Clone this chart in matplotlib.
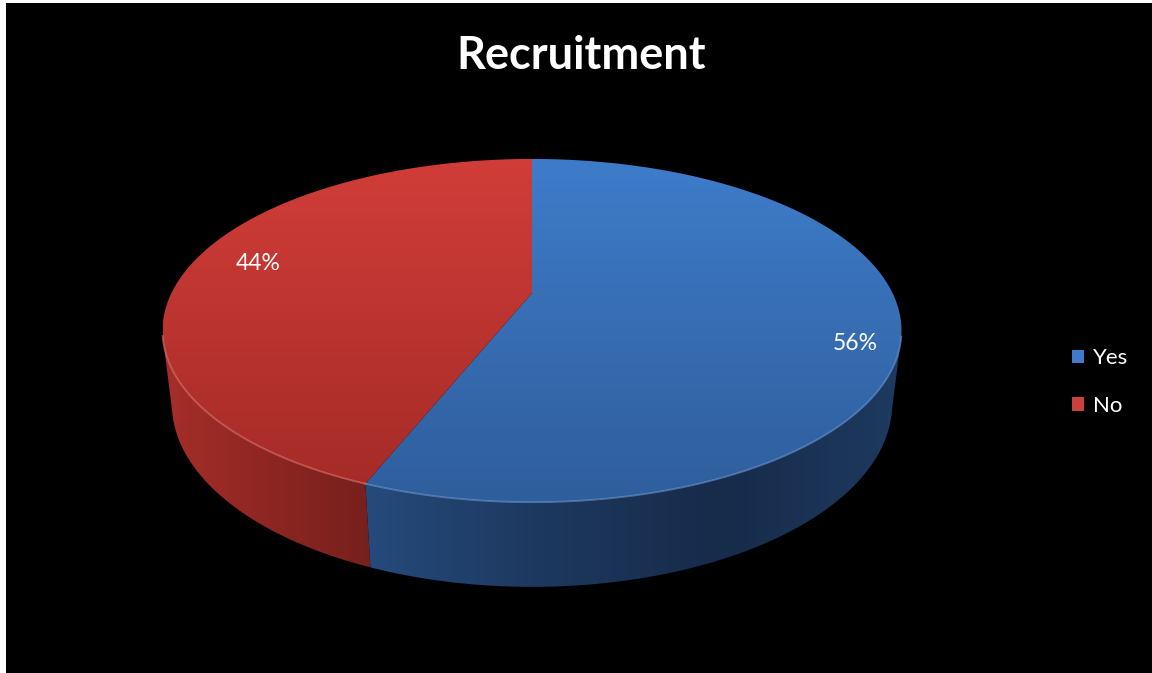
import numpy as np
import matplotlib.pyplot as plt
from matplotlib.patches import Polygon, Patch
from matplotlib.colors import to_rgb

W, H = 1152, 673

labels = ['Yes', 'No']
values = [56, 44]

# colours: top face (light, dark), side wall stops left -> right
top_colors = [('#3e7cca', '#2f5e9c'), ('#d13d39', '#a62b27')]
side_colors = [['#254a7c', '#1d385e', '#172b4a', '#1e3a60'],
               ['#a62e29', '#8e2622', '#76201d']]
rim_colors = ['#6d9ad6', '#e07a74']
legend_colors = ['#3f7bc8', '#c9403c']

# camera for the tilted pie (pixel space)
cx, cy = 532, 293
focal, dist = 1491.0, 4.086
xscale = 0.988
elev = np.radians(26.6)
thick = 0.225


def project(t, r=1.0, z=0.0):
    X = r * np.cos(t)
    Y = r * np.sin(t)
    s, c = np.sin(elev), np.cos(elev)
    d = dist + Y * c - z * s
    return cx + xscale * focal * X / d, cy - focal * (Y * s + z * c) / d


def gradient_fill(ax, xs, ys, stops, horizontal=False):
    poly = Polygon(np.column_stack([xs, ys]), closed=True, facecolor='none',
                   edgecolor='none')
    ax.add_patch(poly)
    stops = np.array([to_rgb(c) for c in stops])
    n = 256
    pos = np.linspace(0, 1, len(stops))
    grid = np.linspace(0, 1, n)
    ramp = np.stack([np.interp(grid, pos, stops[:, k]) for k in range(3)], axis=-1)
    img = ramp[np.newaxis, :, :] if horizontal else ramp[:, np.newaxis, :]
    im = ax.imshow(img, extent=(xs.min(), xs.max(), ys.max(), ys.min()),
                   origin='upper', aspect='auto', interpolation='bilinear',
                   zorder=poly.get_zorder())
    im.set_clip_path(poly)


fig = plt.figure(figsize=(W / 100, H / 100), dpi=100, facecolor='white')
ax = fig.add_axes([6 / W, 0, (W - 6) / W, (H - 3) / H])
ax.set_facecolor('black')
ax.set_axis_off()
ax.add_patch(plt.Rectangle((0, 0), W, H, facecolor='black', zorder=-5))

total = float(sum(values))
bounds = np.radians(90 - 360 * np.concatenate([[0], np.cumsum(values)]) / total)

# only the front part of the wall faces the camera
horizon = -1.0 / (dist * np.cos(elev)) + 0.03

for i in range(len(values)):
    t = np.linspace(bounds[i], bounds[i + 1], 400)
    t = t[np.sin(t) < horizon]
    if len(t) < 2:
        continue
    tx, ty = project(t)
    bx, by = project(t, z=-thick)
    xs = np.concatenate([tx, bx[::-1]])
    ys = np.concatenate([ty, by[::-1]])
    gradient_fill(ax, xs, ys, side_colors[i], horizontal=True)

for i in range(len(values)):
    t = np.linspace(bounds[i], bounds[i + 1], 400)
    tx, ty = project(t)
    xs = np.concatenate([[cx], tx])
    ys = np.concatenate([[cy], ty])
    gradient_fill(ax, xs, ys, top_colors[i])
    front = t[np.sin(t) < horizon]
    if len(front):
        rx, ry = project(front)
        ax.plot(rx, ry, color=rim_colors[i], lw=1.3, alpha=0.6, zorder=3)

# percentage labels
label_r = [0.88, 0.80]
label_dy = [23, -6]
for i, v in enumerate(values):
    mid = (bounds[i] + bounds[i + 1]) / 2
    lx, ly = project(mid, r=label_r[i])
    ax.text(lx, ly + label_dy[i], f'{v}%', color='white', fontsize=16.5,
            family='Lato', ha='center', va='center', zorder=5)

ax.set_xlim(6, W)
ax.set_ylim(H, 3)

fig.text(581 / W, 1 - 56 / H, 'Recruitment', color='white', fontsize=32.5,
         fontweight='bold', family='Lato', ha='center', va='center')

handles = [Patch(facecolor=c, edgecolor='none') for c in legend_colors]
fig.legend(handles, labels, loc='center left', bbox_to_anchor=(1052 / W, 1 - 382 / H),
           frameon=False, labelcolor='white', prop={'family': 'Lato', 'size': 16},
           handlelength=0.55, handleheight=0.55, handletextpad=0.4, labelspacing=1.25)

fig.savefig('out.png', dpi=100, facecolor='white')
